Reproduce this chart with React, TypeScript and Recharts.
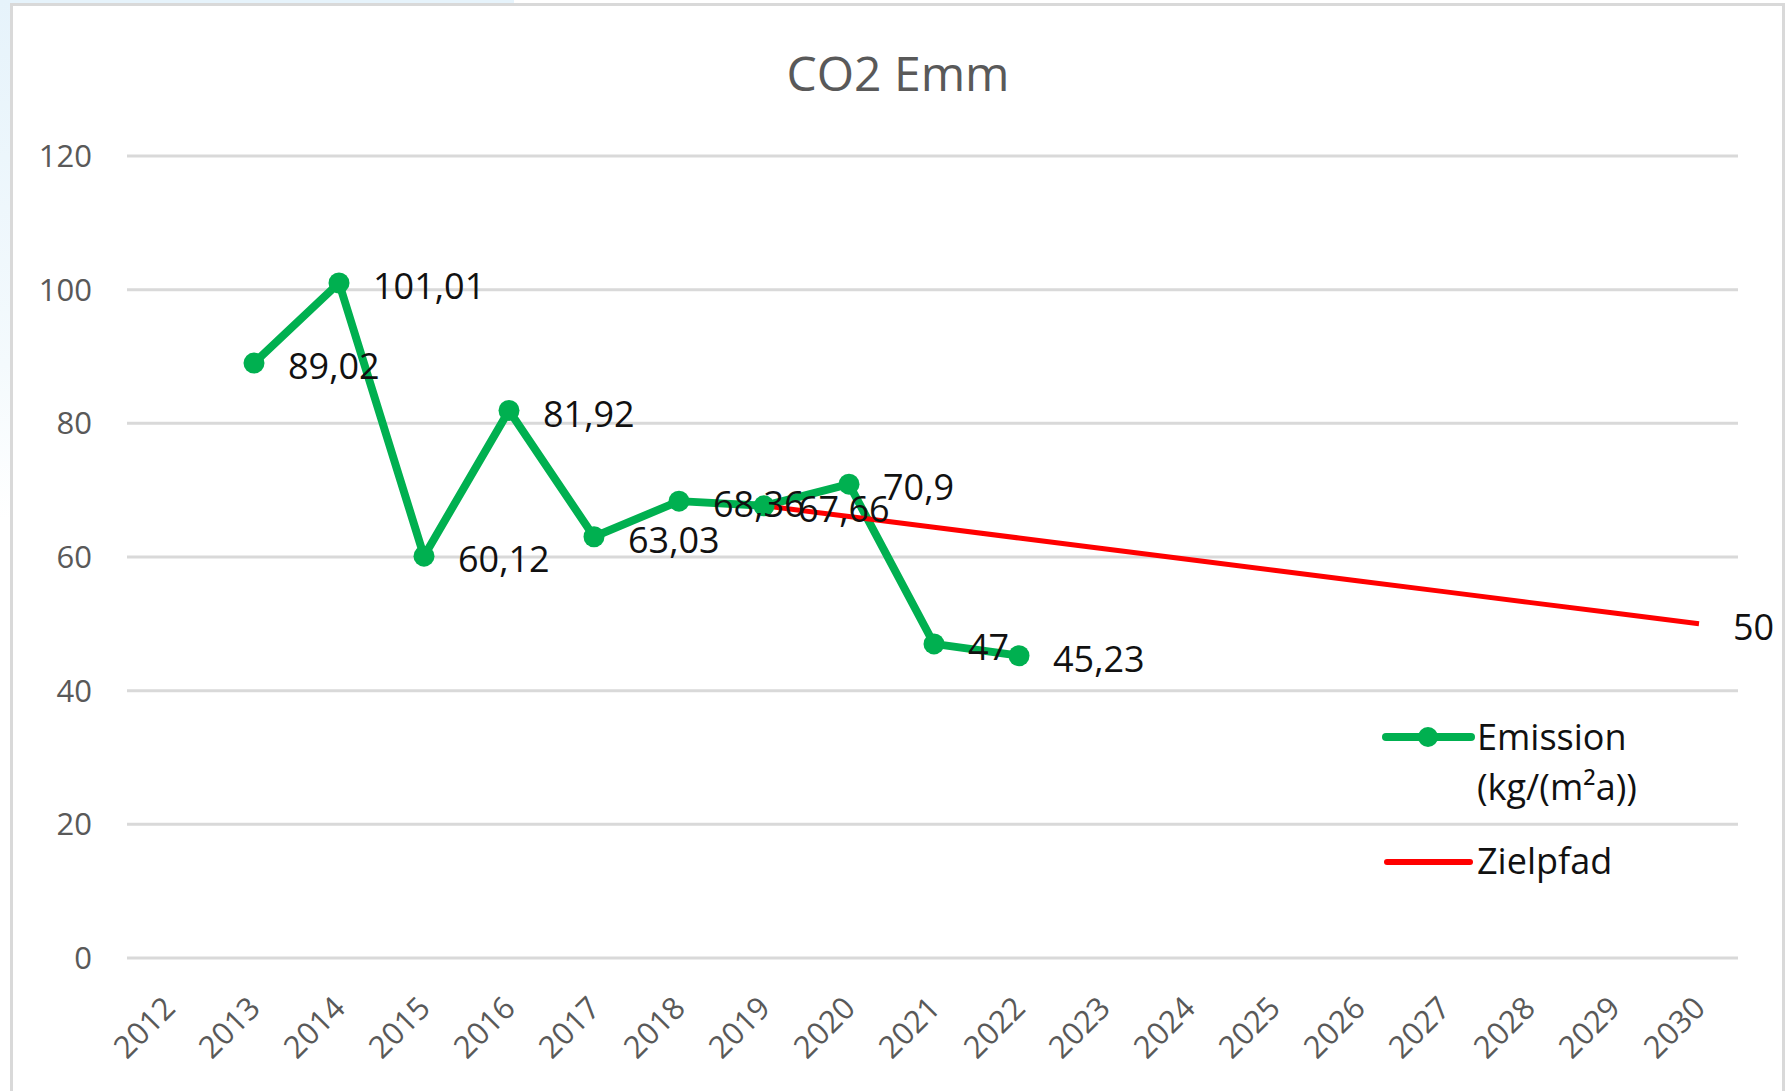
import React from 'react';
import { LineChart, Line, XAxis, YAxis, CartesianGrid, Legend, LabelList } from 'recharts';

const years = ['2012', '2013', '2014', '2015', '2016', '2017', '2018', '2019', '2020', '2021', '2022', '2023', '2024', '2025', '2026', '2027', '2028', '2029', '2030'];
const emission = [null, 89.02, 101.01, 60.12, 81.92, 63.03, 68.36, 67.66, 70.9, 47, 45.23, null, null, null, null, null, null, null, null];
const zielpfad = [null, null, null, null, null, null, null, 67.66, 66.05, 64.45, 62.84, 61.24, 59.63, 58.03, 56.42, 54.82, 53.21, 51.61, 50];
const yTicks = [0, 20, 40, 60, 80, 100, 120];

const EMISSION_NAME = 'Emission (kg/(m²a))';
const ZIEL_NAME = 'Zielpfad';

const data = years.map((y, i) => ({ year: y, emission: emission[i], ziel: zielpfad[i] }));

const FONT = '"Open Sans", "Liberation Sans", sans-serif';
const GREEN = '#00B050';
const RED = '#FF0000';

const fmt = (v: number) => String(v).replace('.', ',');

const labelRenderer = (onlyLast: boolean) => (props: any) => {
  const { x, y, value, index } = props;
  if (value == null || x == null || y == null) return null;
  if (onlyLast && index !== years.length - 1) return null;
  return (
    <text x={x + 34} y={y + 16} fontSize={36} fill="#111" fontFamily={FONT} textAnchor="start">
      {fmt(value)}
    </text>
  );
};

const XTick = (props: any) => {
  const { x, y, payload } = props;
  const ax = x + 8;
  const ay = y + 52;
  return (
    <text x={ax} y={ay} transform={`rotate(-45, ${ax}, ${ay})`} textAnchor="end" fontSize={31} fill="#595959" fontFamily={FONT}>
      {payload.value}
    </text>
  );
};

const renderLegend = (props: any) => {
  const payload = (props.payload || []).filter((p: any) => p.type !== 'none');
  const em = payload.find((p: any) => p.dataKey === 'emission');
  const zi = payload.find((p: any) => p.dataKey === 'ziel');
  const emName = em ? String(em.value) : EMISSION_NAME;
  const cut = emName.indexOf(' (');
  const emLine1 = cut >= 0 ? emName.slice(0, cut) : emName;
  const emLine2 = cut >= 0 ? emName.slice(cut + 1) : '';
  return (
    <svg width={400} height={200} style={{ display: 'block' }}>
      <line x1={16} y1={47} x2={101} y2={47} stroke={em ? em.color : GREEN} strokeWidth={8} strokeLinecap="round" />
      <circle cx={58} cy={47} r={10} fill={em ? em.color : GREEN} />
      <text x={107} y={60} fontSize={36} fill="#111" fontFamily={FONT}>{emLine1}</text>
      <text x={107} y={110} fontSize={36} fill="#111" fontFamily={FONT}>{emLine2}</text>
      <line x1={17} y1={172} x2={100} y2={172} stroke={zi ? zi.color : RED} strokeWidth={6} strokeLinecap="round" />
      <text x={107} y={184} fontSize={36} fill="#111" fontFamily={FONT}>{zi ? String(zi.value) : ZIEL_NAME}</text>
    </svg>
  );
};

export default function App() {
  return (
    <div style={{ position: 'absolute', left: 0, top: 0, width: 1791, height: 1091, background: '#fff', overflow: 'hidden' }}>
      <div style={{ position: 'absolute', left: 0, top: 0, width: 514, height: 5, background: '#E6F3FB' }} />
      <div style={{ position: 'absolute', left: 0, top: 0, width: 10, height: 520, background: 'linear-gradient(#E6F3FB, #F4FAFD 70%, #ffffff)' }} />
      <div style={{ position: 'absolute', left: 10, top: 3, width: 1775, height: 1092, border: '3px solid #D9D9D9', boxSizing: 'border-box', background: '#fff' }} />
      <div style={{ position: 'absolute', left: 0, top: 0 }}>
        <LineChart width={1791} height={1091} data={data} margin={{ top: 156, right: 53, left: 67, bottom: 23 }}>
          <CartesianGrid vertical={false} stroke="#D9D9D9" strokeWidth={3} />
          <XAxis
            dataKey="year"
            axisLine={false}
            tickLine={false}
            tickSize={0}
            tickMargin={0}
            interval={0}
            height={110}
            padding={{ left: 42, right: 39 }}
            tick={<XTick />}
          />
          <YAxis
            domain={[0, 120]}
            ticks={yTicks}
            axisLine={false}
            tickLine={false}
            tickSize={0}
            tickMargin={35}
            width={60}
            tick={{ fontSize: 31, fill: '#595959', fontFamily: FONT }}
          />
          <Line
            dataKey="emission"
            name={EMISSION_NAME}
            stroke={GREEN}
            strokeWidth={8}
            strokeLinejoin="round"
            dot={{ r: 10.5, fill: GREEN, stroke: GREEN, strokeWidth: 0 }}
            isAnimationActive={false}
            connectNulls={false}
          />
          <Line
            dataKey="ziel"
            name={ZIEL_NAME}
            stroke={RED}
            strokeWidth={5}
            dot={false}
            isAnimationActive={false}
          >
            <LabelList dataKey="ziel" content={labelRenderer(true)} />
          </Line>
          <Line
            dataKey="emission"
            name="emission-labels"
            stroke="none"
            strokeWidth={0}
            dot={false}
            activeDot={false}
            legendType="none"
            isAnimationActive={false}
          >
            <LabelList dataKey="emission" content={labelRenderer(false)} />
          </Line>
          <Legend
            layout="vertical"
            align="center"
            verticalAlign="middle"
            content={renderLegend}
            wrapperStyle={{ position: 'absolute', left: 1370, top: 690, width: 400, height: 200 }}
          />
        </LineChart>
      </div>
      <div
        style={{
          position: 'absolute',
          left: 0,
          width: 1796,
          top: 49,
          textAlign: 'center',
          fontFamily: FONT,
          fontSize: 48,
          lineHeight: '48px',
          color: '#595959',
        }}
      >
        CO2 Emm
      </div>
    </div>
  );
}
